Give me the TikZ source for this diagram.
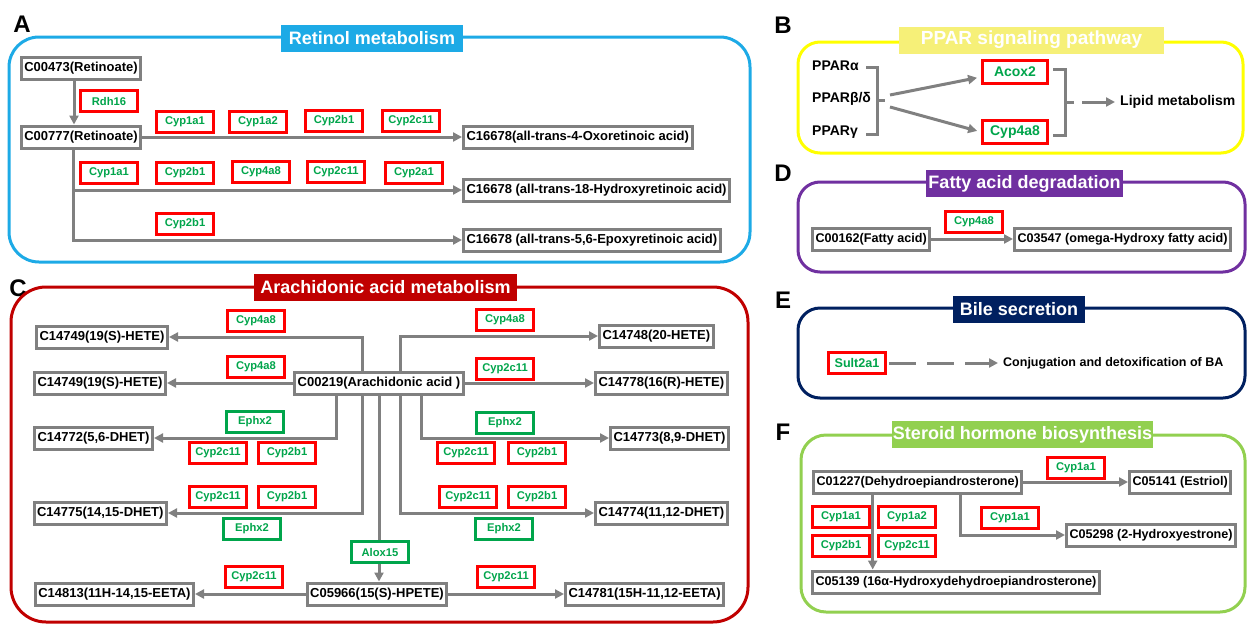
\documentclass[tikz,border=0pt]{standalone}
\usepackage{fontspec}
\setmainfont{Liberation Sans}
\usetikzlibrary{arrows.meta}

\definecolor{boxgray}{RGB}{128,128,128}
\definecolor{enzred}{RGB}{255,0,0}
\definecolor{enzgreen}{RGB}{0,165,75}
\definecolor{retblue}{RGB}{29,170,230}
\definecolor{pparyellow}{RGB}{255,255,0}
\definecolor{pparfill}{RGB}{246,240,120}
\definecolor{arared}{RGB}{192,0,0}
\definecolor{fatpurple}{RGB}{112,48,160}
\definecolor{bilenavy}{RGB}{0,32,96}
\definecolor{sterogreen}{RGB}{146,208,80}

\tikzset{
  cpd/.style={draw=boxgray, line width=3pt, fill=white, inner xsep=3pt,
    inner ysep=1pt, minimum height=22pt, font=\bfseries\fontsize{13}{15}\selectfont},
  cpdsmall/.style={cpd, font=\bfseries\fontsize{12.6}{14}\selectfont},
  enz/.style={draw=enzred, line width=3pt, fill=white, text=enzgreen,
    minimum width=57pt, minimum height=21pt, inner xsep=5pt, inner ysep=1pt,
    font=\bfseries\fontsize{11.2}{13}\selectfont},
  enzg/.style={enz, draw=enzgreen},
  enzbig/.style={enz, minimum width=65pt, minimum height=23pt,
    font=\bfseries\fontsize{14}{16}\selectfont},
  link/.style={draw=boxgray, line width=3pt},
  arr/.style={link, -{Triangle[length=9pt,width=9pt]}},
  panelbox/.style={line width=3pt},
  ttl/.style={text=white, minimum height=27pt, inner sep=0pt,
    font=\bfseries\fontsize{18}{20}\selectfont},
  plain/.style={inner sep=2pt, font=\bfseries\fontsize{14}{16}\selectfont},
  tag/.style={inner sep=0pt, font=\bfseries\fontsize{24}{26}\selectfont}
}

\begin{document}
\begin{tikzpicture}[x=1pt,y=-1pt]
  \useasboundingbox (0,0) rectangle (1247,624);

  % A: retinol metabolism
  \node[tag] (tagA) at (22,24) {A};
  \draw[panelbox, draw=retblue, rounded corners=30pt] (9,37) rectangle (750,262);
  \node[ttl, fill=retblue, minimum width=182pt] (ttlA) at (372,38.5) {Retinol metabolism};
  \node[cpd] (c473) at (81,68) {C00473(Retinoate)};
  \node[cpd] (c777) at (81,137) {C00777(Retinoate)};
  \node[cpd, anchor=west] (oxo) at (462,137) {C16678(all-trans-4-Oxoretinoic acid)};
  \node[cpd, anchor=west] (hydroxy) at (462,190) {C16678 (all-trans-18-Hydroxyretinoic acid)};
  \node[cpd, anchor=west] (epoxy) at (462,240) {C16678 (all-trans-5,6-Epoxyretinoic acid)};
  \draw[arr] ([xshift=-7pt]c473.south) -- ([xshift=-7pt]c777.north);
  \draw[arr] (c777) -- (oxo);
  \draw[arr] ([xshift=-8pt]c777.south) |- (hydroxy.west);
  \draw[arr] ([xshift=-8pt]c777.south) |- (epoxy.west);
  \node[enz] (rdh) at (109,101) {Rdh16};
  \node[enz] (a1a1) at (185,122) {Cyp1a1};
  \node[enz] (a1a2) at (258,122) {Cyp1a2};
  \node[enz] (a2b1) at (334,121) {Cyp2b1};
  \node[enz] (a2c11) at (411,121) {Cyp2c11};
  \node[enz] (b1a1) at (109,173) {Cyp1a1};
  \node[enz] (b2b1) at (185,173) {Cyp2b1};
  \node[enz] (b4a8) at (261,172) {Cyp4a8};
  \node[enz] (b2c11) at (336,172) {Cyp2c11};
  \node[enz] (b2a1) at (414,173) {Cyp2a1};
  \node[enz] (c2b1) at (185,224) {Cyp2b1};

  % B: PPAR signaling
  \node[tag] (tagB) at (783,25) {B};
  \draw[panelbox, draw=pparyellow, rounded corners=22pt] (798,42) rectangle (1243,153);
  \node[ttl, fill=pparfill, minimum width=265pt, font=\bfseries\fontsize{19}{21}\selectfont]
    (ttlB) at (1031.5,40) {PPAR signaling pathway};
  \node[plain, anchor=west] (ppara) at (810,66) {PPARα};
  \node[plain, anchor=west] (pparb) at (810,99) {PPARβ/δ};
  \node[plain, anchor=west] (pparg) at (810,132) {PPARγ};
  \node[enzbig] (acox) at (1015,72) {Acox2};
  \node[enzbig] (cypB) at (1015,132) {Cyp4a8};
  \node[plain, anchor=west] (lipid) at (1118,102) {Lipid metabolism};
  \coordinate (brkL) at (877,100);
  \coordinate (brkR) at (1065,102);
  \draw[link] (866,67) -| (877,134) -- (866,134);
  \draw[link] (brkL) -- ++(8,0);
  \draw[arr, shorten >=4pt] ([xshift=13pt,yshift=5pt]brkL) -- ([yshift=-5pt]acox.west);
  \draw[arr, shorten >=4pt] ([xshift=13pt,yshift=-7pt]brkL) -- (cypB.west);
  \draw[link] (1053,69) -| (1065,135) -- (1053,135);
  \draw[link] (brkR) -- ++(9,0);
  \draw[arr, shorten >=3pt] ([xshift=17pt]brkR) -- (lipid.west);

  % C: arachidonic acid metabolism
  \node[tag] (tagC) at (18,288) {C};
  \draw[panelbox, draw=arared, rounded corners=35pt] (11,287) rectangle (748,622);
  \node[ttl, fill=arared, minimum width=263pt] (ttlC) at (385.5,287) {Arachidonic acid metabolism};
  \node[cpd] (ara) at (379,383) {C00219(Arachidonic acid )};
  \node[cpd, anchor=east] (hete19a) at (169,337) {C14749(19(S)-HETE)};
  \node[cpd, anchor=east] (hete19b) at (167,383) {C14749(19(S)-HETE)};
  \node[cpd, anchor=west] (hete20) at (598,336) {C14748(20-HETE)};
  \node[cpd, anchor=west] (hete16) at (594,383) {C14778(16(R)-HETE)};
  \node[cpd, anchor=east] (dhet56) at (154,438) {C14772(5,6-DHET)};
  \node[cpd, anchor=west] (dhet89) at (609,438) {C14773(8,9-DHET)};
  \node[cpd, anchor=east] (dhet1415) at (168,513) {C14775(14,15-DHET)};
  \node[cpd, anchor=west] (dhet1112) at (594,513) {C14774(11,12-DHET)};
  \node[cpd] (hpete) at (377,594) {C05966(15(S)-HPETE)};
  \node[cpd, anchor=east] (eeta1415) at (195,594) {C14813(11H-14,15-EETA)};
  \node[cpd, anchor=west] (eeta1112) at (564,594) {C14781(15H-11,12-EETA)};
  \draw[arr] ([xshift=-17pt]ara.north) |- (hete19a.east);
  \draw[arr] ([xshift=21pt]ara.north) |- (hete20.west);
  \draw[arr] (ara) -- (hete19b);
  \draw[arr] (ara) -- (hete16);
  \draw[arr] ([xshift=-43pt]ara.south) |- (dhet56.east);
  \draw[arr] ([xshift=42pt]ara.south) |- (dhet89.west);
  \draw[arr] ([xshift=-17pt]ara.south) |- (dhet1415.east);
  \draw[arr] ([xshift=21pt]ara.south) |- (dhet1112.west);
  \draw[arr] (ara.south) -- (ara.south |- hpete.north);
  \draw[arr] (hpete) -- (eeta1415);
  \draw[arr] (hpete) -- (eeta1112);
  \node[enz] (d4a8) at (256,321) {Cyp4a8};
  \node[enz] (e4a8) at (256,367) {Cyp4a8};
  \node[enz] (f4a8) at (505,320) {Cyp4a8};
  \node[enz] (g2c11) at (505,369) {Cyp2c11};
  \node[enzg] (h56) at (255,422) {Ephx2};
  \node[enz] (h2c11) at (218,453) {Cyp2c11};
  \node[enz] (h2b1) at (287,453) {Cyp2b1};
  \node[enzg] (i89) at (505,423) {Ephx2};
  \node[enz] (i2c11) at (466,453) {Cyp2c11};
  \node[enz] (i2b1) at (537,453) {Cyp2b1};
  \node[enz] (j2c11) at (218,497) {Cyp2c11};
  \node[enz] (j2b1) at (287,497) {Cyp2b1};
  \node[enzg] (j1415) at (252,529) {Ephx2};
  \node[enz] (k2c11) at (468,497) {Cyp2c11};
  \node[enz] (k2b1) at (537,497) {Cyp2b1};
  \node[enzg] (k1112) at (504,529) {Ephx2};
  \node[enzg] (alox) at (380,552) {Alox15};
  \node[enz] (l2c11) at (254,577) {Cyp2c11};
  \node[enz] (m2c11) at (506,577) {Cyp2c11};

  % D: fatty acid degradation
  \node[tag] (tagD) at (783,173) {D};
  \draw[panelbox, draw=fatpurple, rounded corners=22pt] (798,182) rectangle (1245,272);
  \node[ttl, fill=fatpurple, minimum width=197pt] (ttlD) at (1024.5,183.5) {Fatty acid degradation};
  \node[cpdsmall, anchor=west] (fatty) at (811,239) {C00162(Fatty acid)};
  \node[cpdsmall, anchor=west] (omega) at (1013,239) {C03547 (omega-Hydroxy fatty acid)};
  \draw[arr] (fatty) -- (omega);
  \node[enz] (n4a8) at (974,222) {Cyp4a8};

  % E: bile secretion
  \node[tag] (tagE) at (783,300) {E};
  \draw[panelbox, draw=bilenavy, rounded corners=22pt] (798,308) rectangle (1245,398);
  \node[ttl, fill=bilenavy, minimum width=132pt] (ttlE) at (1019,309) {Bile secretion};
  \node[enz, font=\bfseries\fontsize{12.6}{14}\selectfont] (sult) at (857,363) {Sult2a1};
  \node[plain, anchor=west, font=\bfseries\fontsize{12.5}{14}\selectfont] (conj) at (1001,363)
    {Conjugation and detoxification of BA};
  \draw[arr, dash pattern=on 27pt off 11pt, shorten <=2pt, shorten >=3pt] (sult) -- (conj);

  % F: steroid hormone biosynthesis
  \node[tag] (tagF) at (783,432) {F};
  \draw[panelbox, draw=sterogreen, rounded corners=25pt] (801,435) rectangle (1245,612);
  \node[ttl, fill=sterogreen, minimum width=261pt] (ttlF) at (1022.5,434.5) {Steroid hormone biosynthesis};
  \node[cpdsmall, anchor=west] (dhea) at (812,482) {C01227(Dehydroepiandrosterone)};
  \node[cpdsmall, anchor=west] (estriol) at (1128,482) {C05141 (Estriol)};
  \node[cpdsmall, anchor=west] (hyest) at (1065,535) {C05298 (2-Hydroxyestrone)};
  \node[cpdsmall, anchor=west] (c5139) at (811,582) {C05139 (16α-Hydroxydehydroepiandrosterone)};
  \coordinate (dheaL) at ([xshift=-45pt]dhea.south);
  \draw[arr] (dhea) -- (estriol);
  \draw[arr] ([xshift=43pt]dhea.south) |- (hyest.west);
  \draw[arr] (dheaL) -- (dheaL |- c5139.north);
  \node[enz] (o1a1) at (1076,468) {Cyp1a1};
  \node[enz] (p1a1) at (1010,518) {Cyp1a1};
  \node[enz] (q1a1) at (841,517) {Cyp1a1};
  \node[enz] (q1a2) at (907,517) {Cyp1a2};
  \node[enz] (q2b1) at (841,546) {Cyp2b1};
  \node[enz] (q2c11) at (907,546) {Cyp2c11};
\end{tikzpicture}
\end{document}
